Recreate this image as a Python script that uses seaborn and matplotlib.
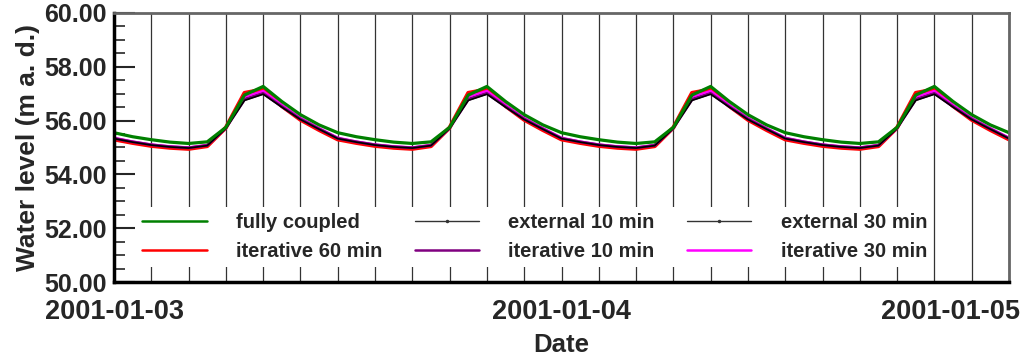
import numpy as np
import pandas as pd
import matplotlib
matplotlib.use("Agg")
import matplotlib.pyplot as plt
import matplotlib.dates as mdates
from matplotlib.lines import Line2D
from matplotlib.ticker import MultipleLocator, FormatStrFormatter
from matplotlib.transforms import ScaledTranslation
import seaborn as sns

# hourly water levels, 2001-01-03 00:00 .. 2001-01-05 00:00
times = pd.date_range("2001-01-03 00:00", periods=49, freq="h")

fully_coupled = [
    55.55, 55.40, 55.29, 55.20, 55.15, 55.21, 55.75, 56.95, 57.27, 56.71, 56.22, 55.84,
    55.55, 55.40, 55.29, 55.20, 55.15, 55.21, 55.75, 56.95, 57.27, 56.71, 56.22, 55.84,
    55.55, 55.40, 55.29, 55.20, 55.15, 55.21, 55.75, 56.95, 57.27, 56.71, 56.22, 55.84,
    55.55, 55.40, 55.29, 55.20, 55.15, 55.21, 55.75, 56.95, 57.27, 56.71, 56.22, 55.84,
    55.55]
iterative_60 = [
    55.30, 55.17, 55.06, 54.99, 54.95, 55.05, 55.74, 57.03, 57.16, 56.54, 56.03, 55.65,
    55.30, 55.17, 55.06, 54.99, 54.95, 55.05, 55.74, 57.03, 57.16, 56.54, 56.03, 55.65,
    55.30, 55.17, 55.06, 54.99, 54.95, 55.05, 55.74, 57.03, 57.16, 56.54, 56.03, 55.65,
    55.30, 55.17, 55.06, 54.99, 54.95, 55.05, 55.74, 57.03, 57.16, 56.54, 56.03, 55.65,
    55.30]
iterative_10 = [
    55.34, 55.21, 55.10, 55.03, 54.99, 55.08, 55.72, 56.78, 57.01, 56.52, 56.06, 55.69,
    55.34, 55.21, 55.10, 55.03, 54.99, 55.08, 55.72, 56.78, 57.01, 56.52, 56.06, 55.69,
    55.34, 55.21, 55.10, 55.03, 54.99, 55.08, 55.72, 56.78, 57.01, 56.52, 56.06, 55.69,
    55.34, 55.21, 55.10, 55.03, 54.99, 55.08, 55.72, 56.78, 57.01, 56.52, 56.06, 55.69,
    55.34]
iterative_30 = [
    55.36, 55.22, 55.11, 55.04, 55.00, 55.09, 55.73, 56.88, 57.10, 56.58, 56.10, 55.72,
    55.36, 55.22, 55.11, 55.04, 55.00, 55.09, 55.73, 56.88, 57.10, 56.58, 56.10, 55.72,
    55.36, 55.22, 55.11, 55.04, 55.00, 55.09, 55.73, 56.88, 57.10, 56.58, 56.10, 55.72,
    55.36, 55.22, 55.11, 55.04, 55.00, 55.09, 55.73, 56.88, 57.10, 56.58, 56.10, 55.72,
    55.36]
external_10 = [
    55.33, 55.20, 55.09, 55.02, 54.98, 55.07, 55.71, 56.75, 56.98, 56.50, 56.04, 55.68,
    55.33, 55.20, 55.09, 55.02, 54.98, 55.07, 55.71, 56.75, 56.98, 56.50, 56.04, 55.68,
    55.33, 55.20, 55.09, 55.02, 54.98, 55.07, 55.71, 56.75, 56.98, 56.50, 56.04, 55.68,
    55.33, 55.20, 55.09, 55.02, 54.98, 55.07, 55.71, 56.75, 56.98, 56.50, 56.04, 55.68,
    55.33]
external_30 = [
    55.35, 55.21, 55.10, 55.03, 54.99, 55.08, 55.72, 56.82, 57.04, 56.54, 56.08, 55.70,
    55.35, 55.21, 55.10, 55.03, 54.99, 55.08, 55.72, 56.82, 57.04, 56.54, 56.08, 55.70,
    55.35, 55.21, 55.10, 55.03, 54.99, 55.08, 55.72, 56.82, 57.04, 56.54, 56.08, 55.70,
    55.35, 55.21, 55.10, 55.03, 54.99, 55.08, 55.72, 56.82, 57.04, 56.54, 56.08, 55.70,
    55.35]

sns.set_style("white")
plt.rcParams["font.family"] = ["Liberation Sans", "DejaVu Sans"]
plt.rcParams["font.weight"] = "bold"

fig = plt.figure(figsize=(10.24, 3.58), dpi=100)
ax = fig.add_axes([114 / 1024, 1 - 282 / 358, 895 / 1024, 269 / 358])

# draw order: red at the bottom, green on top
series = [
    ("iterative 60 min", iterative_60, "#ff0000", 2.9),
    ("external 30 min", external_30, "black", 1.2),
    ("iterative 30 min", iterative_30, "#ff00ff", 1.8),
    ("iterative 10 min", iterative_10, "#800080", 2.0),
    ("external 10 min", external_10, "black", 1.2),
    ("fully coupled", fully_coupled, "#008000", 2.3),
]
for name, vals, col, lw in series:
    sns.lineplot(x=times, y=vals, ax=ax, color=col, linewidth=lw, legend=False)

ax.set_xlim(times[0], times[-1])
ax.set_ylim(50, 60)

# axes styling
ax.xaxis.set_major_locator(mdates.DayLocator())
ax.xaxis.set_major_formatter(mdates.DateFormatter("%Y-%m-%d"))
ax.xaxis.set_minor_locator(mdates.HourLocator(interval=2))
ax.grid(True, which="both", axis="x", color="#333333", linewidth=0.9)
ax.grid(False, axis="y")
ax.tick_params(axis="x", which="both", length=0, pad=12, labelsize=19.5)
ax.yaxis.set_major_locator(MultipleLocator(2))
ax.yaxis.set_minor_locator(MultipleLocator(0.5))
ax.yaxis.set_major_formatter(FormatStrFormatter("%.2f"))
ax.tick_params(axis="y", which="major", direction="in", length=15, width=1.5,
               pad=5, labelsize=18, left=True)
ax.tick_params(axis="y", which="minor", direction="in", length=8, width=1.2, left=True)

fig.canvas.draw()
for lab in ax.get_xticklabels() + ax.get_yticklabels():
    lab.set_fontweight("bold")
xlabels = ax.get_xticklabels()
xlabels[-1].set_horizontalalignment("right")
xlabels[-1].set_transform(xlabels[-1].get_transform()
                          + ScaledTranslation(11 / 100, 0, fig.dpi_scale_trans))

for side in ["left", "bottom"]:
    ax.spines[side].set_color("black")
    ax.spines[side].set_linewidth(2.5)
for side in ["top", "right"]:
    ax.spines[side].set_color("#666666")
    ax.spines[side].set_linewidth(2)

ax.set_xlabel("Date", fontsize=18.5, fontweight="bold")
ax.set_ylabel("Water level (m a. d.)", fontsize=19, fontweight="bold")
ax.xaxis.set_label_coords(0.5, -0.19)
ax.yaxis.set_label_coords(-0.083, 0.5)

handles = [
    Line2D([], [], color="#008000", lw=1.8),
    Line2D([], [], color="#ff0000", lw=1.8),
    Line2D([], [], color="#333333", lw=1.0, marker=".", markersize=3),
    Line2D([], [], color="#800080", lw=1.8),
    Line2D([], [], color="#333333", lw=1.0, marker=".", markersize=3),
    Line2D([], [], color="#ff00ff", lw=1.8),
]
labels = ["fully coupled", "iterative 60 min", "external 10 min",
          "iterative 10 min", "external 30 min", "iterative 30 min"]
leg = ax.legend(handles, labels, ncol=3, loc="lower left",
                bbox_to_anchor=(0.025, 0.056), borderaxespad=0,
                prop={"size": 14.5, "weight": "bold"},
                handlelength=3.2, handletextpad=1.45, columnspacing=1.6,
                labelspacing=0.5, borderpad=0.3,
                frameon=True, framealpha=1, facecolor="white",
                edgecolor="none", fancybox=False)

fig.savefig("out.png", dpi=100)
